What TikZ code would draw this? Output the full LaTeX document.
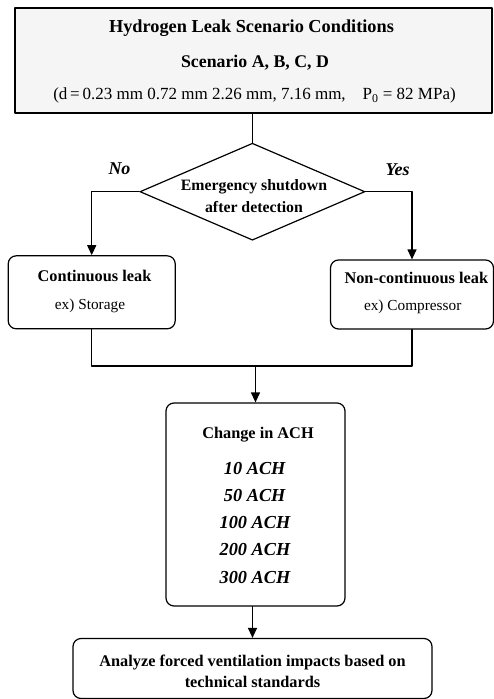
\documentclass[tikz,border=0pt]{standalone}
\usepackage{fontspec}
\setmainfont{Liberation Serif}
\usetikzlibrary{arrows.meta,shapes.geometric}

\tikzset{
  box/.style={draw,rounded corners=8pt,inner sep=0pt},
  txt/.style={inner sep=0pt,align=center,text height=.7em,text depth=.2em},
  bf16/.style={font=\fontsize{16.3}{21}\selectfont\bfseries},
  rm15/.style={font=\fontsize{15.3}{18}\selectfont},
  ach/.style={txt,font=\fontsize{18.3}{20}\selectfont\bfseries\itshape}
}

\begin{document}
\begin{tikzpicture}[line cap=round,line join=round,>={Triangle[length=10pt,width=9pt]},x=1.0pt,y=-1.0pt,line width=1.2pt]
\useasboundingbox (0,0) rectangle (493,699);

% boxes
\node[draw,fill=gray!8,line width=1.5pt,inner sep=0pt,minimum width=477pt,minimum height=105pt] (cond) at (253.5,60.5) {};
\node[draw,diamond,inner sep=0pt,minimum width=225pt,minimum height=97pt] (dec) at (252.4,191.7) {};
\node[box,minimum width=167pt,minimum height=73pt] (cont) at (91.7,292.3) {};
\node[box,minimum width=163pt,minimum height=69pt] (ncont) at (412,294.5) {};
\node[box,minimum width=179pt,minimum height=203pt] (chg) at (255.5,504.5) {};
\node[box,minimum width=359pt,minimum height=60pt] (ana) at (252.5,668.5) {};

% texts
\node[txt,font=\fontsize{18.3}{20}\selectfont\bfseries] (title) at (251.5,30) {Hydrogen Leak Scenario Conditions};
\node[txt,font=\fontsize{17.8}{20}\selectfont\bfseries] (scen) at (255,65) {Scenario A, B, C, D};
\node[txt,font=\fontsize{17}{20}\selectfont] (dia) at (254.5,97) {(d\,=\,0.23 mm 0.72 mm 2.26 mm, 7.16 mm,\quad P\textsubscript{0} = 82 MPa)};
\node[inner sep=0pt,align=center,font=\fontsize{15.8}{21.5}\selectfont\bfseries] (dectxt) at (254,196) {Emergency shutdown\\after detection};
\node[txt,font=\fontsize{18}{20}\selectfont\bfseries\itshape] (no) at (119.5,172) {No};
\node[txt,font=\fontsize{18}{20}\selectfont\bfseries\itshape] (yes) at (397.5,173) {Yes};
\node[txt,bf16] (conttxt) at (94.5,279.3) {Continuous leak};
\node[txt,rm15] (contex) at (90,307.3) {ex) Storage};
\node[txt,bf16] (ncontxt) at (416.3,280.7) {Non-continuous leak};
\node[txt,rm15] (ncontex) at (412.7,308.3) {ex) Compressor};
\node[txt,bf16] (chgtxt) at (258,436) {Change in ACH};
\node[ach] (a10) at (254.7,472) {10 ACH};
\node[ach] (a50) at (254.7,499) {50 ACH};
\node[ach] (a100) at (255,526) {100 ACH};
\node[ach] (a200) at (255,553) {200 ACH};
\node[ach] (a300) at (255,580.5) {300 ACH};
\node[inner sep=0pt,align=center,font=\fontsize{16.3}{21}\selectfont\bfseries] (anatxt) at (252.5,671) {Analyze forced ventilation impacts based on\\technical standards};

% connectors
\coordinate (join) at (255.5,366);
\draw (dec.north |- cond.south) -- (dec.north);
\draw[->] (dec.west) -| (cont.north);
\draw[->] (dec.east) -| (ncont.north);
\draw (cont.south) |- (join) -| (ncont.south);
\draw[->] (join) -- (chg.north);
\draw[->] (ana.north |- chg.south) -- (ana.north);
\end{tikzpicture}
\end{document}
